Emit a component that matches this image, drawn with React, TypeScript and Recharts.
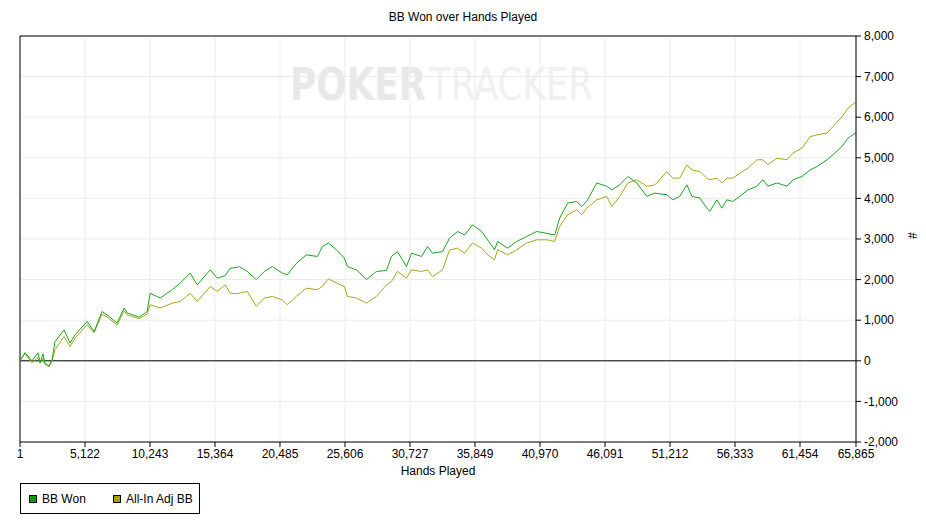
import { LineChart, Line, XAxis, YAxis, CartesianGrid, ReferenceLine } from "recharts";

const hands = [
  1, 395, 947, 1421, 1579, 1815, 1973, 2288, 2525, 2762, 3472, 3945, 4339, 5286, 5838, 6469,
  6863, 7652, 8204, 8441, 9387, 10018, 10255, 11044, 11991, 12622, 13410, 13963, 14988, 15540,
  16171, 16566, 17118, 17276, 17907, 18617, 19248, 19879, 20668, 21063, 21773, 22561, 23429,
  23823, 24297, 24928, 25559, 25796, 26506, 27295, 28083, 28872, 29267, 29740, 30450, 30844,
  31633, 32107, 32501, 33290, 33842, 34473, 35026, 35657, 36367, 36840, 37392, 37629, 38418,
  39128, 39916, 40705, 41494, 42125, 42519, 43150, 43860, 44255, 44649, 45438, 46227, 46621,
  47252, 47884, 48594, 49383, 50014, 50960, 51433, 51985, 52538, 52932, 53563, 54115, 54352,
  54904, 55299, 55693, 56166, 56718, 57349, 58059, 58533, 58927, 59637, 60426, 60899, 61609,
  62240, 62792, 63581, 64054, 64764, 65237, 65865,
];

const bbWon = [
  0, 200, 0, 200, -50, 170, -60, -130, 25, 475, 760, 440, 640, 970, 720, 1215,
  1130, 930, 1300, 1180, 1075, 1215, 1665, 1545, 1750, 1915, 2160, 1870, 2240, 2035,
  2100, 2280, 2300, 2320, 2200, 2000, 2200, 2320, 2160, 2120, 2400, 2610, 2570,
  2815, 2900, 2735, 2530, 2320, 2240, 2000, 2200, 2225, 2570, 2690, 2320, 2650,
  2570, 2815, 2650, 2690, 3020, 3185, 3100, 3350, 3185, 2980, 2735, 2940, 2775,
  2940, 3060, 3185, 3140, 3100, 3515, 3885, 3925, 3800, 3925, 4380, 4300, 4210,
  4335, 4540, 4380, 4050, 4130, 4090, 3965, 4050, 4335, 4050, 4010, 3760, 3680,
  3965, 3760, 3965, 3925, 4050, 4210, 4300, 4460, 4300, 4380, 4300, 4460, 4540,
  4700, 4785, 4950, 5075, 5280, 5485, 5620,
];

const allInAdj = [
  0, 180, -50, 80, -60, 60, -80, -150, 0, 270, 600, 350, 560, 890, 690, 1150,
  1080, 880, 1230, 1130, 1040, 1150, 1380, 1300, 1420, 1460, 1665, 1460, 1830, 1710,
  1870, 1665, 1650, 1665, 1710, 1340, 1545, 1585, 1500, 1380, 1585, 1790, 1750,
  1830, 2020, 1915, 1830, 1585, 1545, 1420, 1585, 1870, 1955, 2200, 2035, 2240,
  2200, 2240, 2075, 2240, 2730, 2775, 2650, 2900, 2775, 2610, 2490, 2735, 2610,
  2735, 2900, 2980, 2980, 2940, 3310, 3600, 3720, 3600, 3760, 3965, 4050, 3800,
  4050, 4380, 4460, 4300, 4330, 4660, 4500, 4500, 4830, 4700, 4660, 4500, 4460,
  4500, 4380, 4500, 4500, 4620, 4745, 4950, 4950, 4830, 4990, 4950, 5115, 5240,
  5520, 5565, 5610, 5770, 6010, 6220, 6380,
];

const xTicks = [1, 5122, 10243, 15364, 20485, 25606, 30727, 35849, 40970, 46091, 51212, 56333, 61454, 65865];
const yTicks = [-2000, -1000, 0, 1000, 2000, 3000, 4000, 5000, 6000, 7000, 8000];

const seriesNames = ["BB Won", "All-In Adj BB"];
const seriesColors = ["#1ea51e", "#a8a81c"];
const legendColors = ["#0c9c0c", "#a0a000"];

const data = hands.map((h, i) => ({ hand: h, won: bbWon[i], adj: allInAdj[i] }));

const FONT = "'Liberation Sans', Arial, sans-serif";
const MARK = "'DejaVu Sans Condensed', 'DejaVu Sans', sans-serif";

const fmt = (v: number) => v.toLocaleString("en-US");

// legend drawn outside the chart so it doesn't eat plot height
const LegendBox = () => (
  <div
    style={{
      position: "absolute",
      left: 20,
      top: 483,
      border: "1px solid #000",
      width: 178,
      height: 29,
      fontFamily: FONT,
      fontSize: 12,
      color: "#000",
    }}
  >
    {seriesNames.map((n, i) => (
      <div
        key={n}
        style={{
          position: "absolute",
          left: i === 0 ? 8 : 92,
          top: 0,
          height: 29,
          display: "flex",
          alignItems: "center",
          whiteSpace: "nowrap",
        }}
      >
        <span
          style={{
            display: "inline-block",
            width: 6,
            height: 6,
            background: legendColors[i],
            border: "1px solid #000",
            marginRight: 5,
          }}
        />
        {n}
      </div>
    ))}
  </div>
);

export default function App() {
  return (
    <div style={{ position: "absolute", left: 0, top: 0, width: 926, height: 528, background: "#fff" }}>
      <svg width={926} height={528} style={{ position: "absolute", left: 0, top: 0 }}>
        <text x={290} y={100} fontFamily={MARK} fontSize={44} fontWeight="bold" fill="#e8e8e8"
          textLength={136} lengthAdjust="spacingAndGlyphs">
          POKER
        </text>
        <text x={429} y={100} fontFamily={MARK} fontSize={44} fill="#f0f0f0"
          textLength={164} lengthAdjust="spacingAndGlyphs">
          TRACKER
        </text>
      </svg>
      <div style={{ position: "absolute", left: 0, top: 0 }}>
        <LineChart
          width={926}
          height={528}
          data={data}
          margin={{ top: 36, right: 0, bottom: 0, left: 20 }}
          style={{ fontFamily: FONT }}
        >
          <text x={463} y={21} textAnchor="middle" fontSize={12} fontFamily={FONT} fill="#000">
            BB Won over Hands Played
          </text>
          <CartesianGrid stroke="#ebebeb" strokeWidth={1} />
          <XAxis
            dataKey="hand"
            type="number"
            domain={[1, 65865]}
            ticks={xTicks}
            tickFormatter={fmt}
            interval={0}
            height={86}
            stroke="#000"
            tick={{ fill: "#000", fontSize: 12 }}
            tickSize={5}
            tickMargin={2}
            label={{ value: "Hands Played", position: "insideTop", offset: 24, fill: "#000", fontSize: 12 }}
          />
          <YAxis
            orientation="right"
            type="number"
            domain={[-2000, 8000]}
            ticks={yTicks}
            tickFormatter={fmt}
            interval={0}
            width={70}
            stroke="#000"
            tick={{ fill: "#000", fontSize: 12, textAnchor: "start" }}
            tickSize={5}
            tickMargin={3}
            label={{ value: "#", angle: 90, position: "insideRight", offset: 14, fill: "#000", fontSize: 12 }}
          />
          <ReferenceLine y={8000} stroke="#000" strokeWidth={1} />
          <ReferenceLine x={1} stroke="#000" strokeWidth={1} />
          <ReferenceLine y={0} stroke="#000" strokeWidth={1} />
          <Line
            dataKey="adj"
            name={seriesNames[1]}
            stroke={seriesColors[1]}
            strokeWidth={1}
            dot={false}
            isAnimationActive={false}
          />
          <Line
            dataKey="won"
            name={seriesNames[0]}
            stroke={seriesColors[0]}
            strokeWidth={1}
            dot={false}
            isAnimationActive={false}
          />
        </LineChart>
      </div>
      <LegendBox />
    </div>
  );
}
